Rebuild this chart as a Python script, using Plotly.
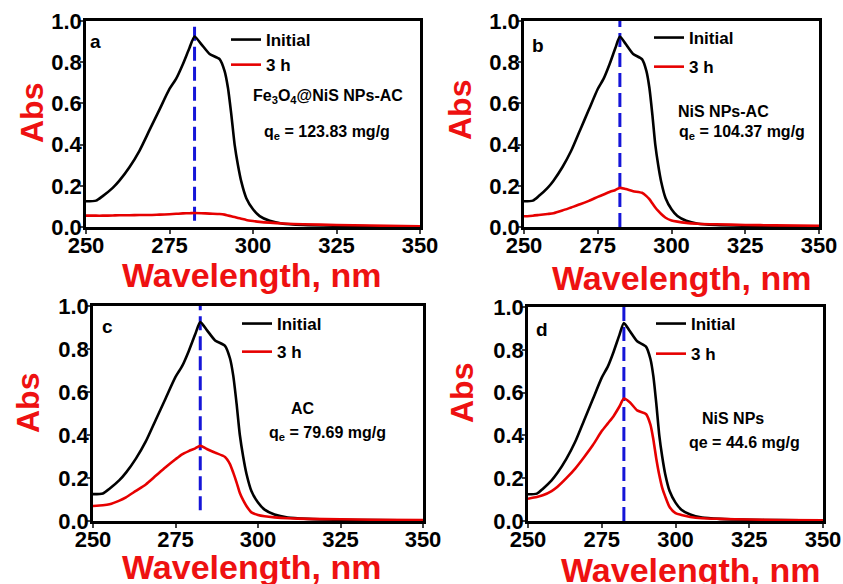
import plotly.graph_objects as go

# ---------------- data ----------------
wavelength = [250, 253, 255, 258, 260, 263, 266, 269, 272, 275, 277, 279, 281, 282.5,
              284.5, 287, 290, 291.5, 292.5, 293.5, 294.5, 295.5, 296.5, 298, 300, 302,
              305, 309, 315, 325, 335, 350]

abs_initial = [0.125, 0.128, 0.15, 0.19, 0.225, 0.29, 0.37, 0.47, 0.57, 0.67, 0.72, 0.79,
               0.87, 0.925, 0.888, 0.84, 0.815, 0.757, 0.676, 0.547, 0.40, 0.30, 0.22,
               0.14, 0.086, 0.053, 0.03, 0.016, 0.01, 0.006, 0.004, 0.002]

abs_3h_a = [0.055, 0.055, 0.055, 0.056, 0.057, 0.057, 0.058, 0.058, 0.06, 0.062, 0.064,
            0.066, 0.067, 0.068, 0.067, 0.065, 0.063, 0.06, 0.056, 0.052, 0.048, 0.044,
            0.04, 0.034, 0.029, 0.025, 0.021, 0.017, 0.013, 0.01, 0.007, 0.004]

abs_3h_b = [0.052, 0.055, 0.058, 0.063, 0.067, 0.08, 0.095, 0.11, 0.127, 0.146, 0.158,
            0.17, 0.18, 0.19, 0.184, 0.174, 0.166, 0.15, 0.135, 0.115, 0.095, 0.078,
            0.063, 0.045, 0.032, 0.026, 0.02, 0.016, 0.013, 0.01, 0.008, 0.006]

abs_3h_c = [0.07, 0.073, 0.078, 0.095, 0.11, 0.14, 0.17, 0.21, 0.25, 0.287, 0.31, 0.325,
            0.338, 0.35, 0.335, 0.318, 0.298, 0.265, 0.225, 0.18, 0.13, 0.097, 0.07,
            0.04, 0.028, 0.022, 0.017, 0.013, 0.01, 0.008, 0.006, 0.005]

abs_3h_d = [0.104, 0.112, 0.12, 0.14, 0.16, 0.2, 0.245, 0.298, 0.355, 0.42, 0.455, 0.49,
            0.535, 0.572, 0.555, 0.517, 0.50, 0.45, 0.38, 0.29, 0.215, 0.155, 0.115,
            0.065, 0.037, 0.028, 0.019, 0.013, 0.01, 0.007, 0.005, 0.003]

panel_letters = ["a", "b", "c", "d"]
adsorbent_names = ["Fe<sub>3</sub>O<sub>4</sub>@NiS NPs-AC", "NiS NPs-AC", "AC", "NiS NPs"]
qe_labels = ["q<sub>e</sub> = 123.83 mg/g", "q<sub>e</sub> = 104.37 mg/g",
             "q<sub>e</sub> = 79.69 mg/g", "qe = 44.6 mg/g"]
series_names = ["Initial", "3 h"]
peak_wavelength = 282.5
peak_line_bottom = [0.03, 0.0, 0.05, 0.0]
x_tick_values = [250, 275, 300, 325, 350]
y_tick_values = [0.0, 0.2, 0.4, 0.6, 0.8, 1.0]
x_title = "Wavelength, nm"
y_title = "Abs"

# ---------------- layout geometry (pixels) ----------------
W, H = 843, 584
FONT = "Liberation Sans, Arial, sans-serif"
RED = "#ee1111"
BLUE = "#1515d8"


def px(x):
    return x / W


def py(y):
    return 1 - y / H


# plot boxes: left, right, top, bottom in pixels
boxes = [(86, 420, 21, 227), (524, 819, 21, 227), (93, 423, 306, 521), (528, 823, 307, 521)]
legend_pos = [(226, 22, 0), (649, 20, 4), (237, 306, 3), (651, 306, 5)]
letter_pos = [(95, 42), (538, 45), (107, 326), (542, 329)]
name_pos = [(328, 97), (723, 111), (303, 408), (733, 418)]
qe_pos = [(327, 133), (742, 133), (327, 433), (744, 442)]
ytitle_pos = [(32, 113), (460, 110), (28, 403), (462, 393)]
xtitle_pos = [(252, 275), (681, 278), (252, 567), (690, 570)]

red_series = [abs_3h_a, abs_3h_b, abs_3h_c, abs_3h_d]

fig = go.Figure()
annotations = []
layout_axes = {}


def note(text, pos, size, color="black", angle=0):
    return dict(text=text, x=px(pos[0]), y=py(pos[1]), xref="paper", yref="paper",
                xanchor="center", yanchor="middle", showarrow=False, textangle=angle,
                font=dict(family=FONT, size=size, color=color, weight="bold"))


for i in range(4):
    sfx = "" if i == 0 else str(i + 1)
    xa, ya = "x" + sfx, "y" + sfx
    leg = "legend" + sfx
    # dashed peak marker
    fig.add_trace(go.Scatter(
        x=[peak_wavelength, peak_wavelength], y=[peak_line_bottom[i], 1.0],
        mode="lines", line=dict(color=BLUE, width=3, dash="14px,6px"),
        showlegend=False, hoverinfo="skip", xaxis=xa, yaxis=ya))
    fig.add_trace(go.Scatter(
        x=wavelength, y=abs_initial, mode="lines", name=series_names[0],
        line=dict(color="black", width=2.6, shape="spline", smoothing=0.6),
        legend=leg, legendgroup="init" + sfx, legendrank=1, xaxis=xa, yaxis=ya))
    fig.add_trace(go.Scatter(
        x=wavelength, y=red_series[i], mode="lines", name=series_names[1],
        line=dict(color="#e60000", width=2.6, shape="spline", smoothing=0.6),
        legend=leg, legendgroup="t3" + sfx, legendrank=2, xaxis=xa, yaxis=ya))

    l, r, t, b = boxes[i]
    layout_axes["xaxis" + sfx] = dict(
        domain=[px(l), px(r)], anchor=ya, range=[250, 350], automargin=False,
        tickvals=x_tick_values, ticks="outside", ticklen=4, tickwidth=2,
        ticklabelstandoff=-7,
        showline=True, linewidth=2.5, linecolor="black", mirror=True,
        showgrid=False, zeroline=False,
        tickfont=dict(family=FONT, size=22, color="black", weight="bold"))
    layout_axes["yaxis" + sfx] = dict(
        domain=[py(b), py(t)], anchor=xa, range=[0, 1.0], automargin=False,
        tickvals=y_tick_values, tickformat=".1f", ticks="outside", ticklen=3, tickwidth=2,
        ticklabelstandoff=-6,
        showline=True, linewidth=2.5, linecolor="black", mirror=True,
        showgrid=False, zeroline=False,
        tickfont=dict(family=FONT, size=22, color="black", weight="bold"))

    lx, ly, gap = legend_pos[i]
    layout_axes[leg] = dict(
        x=px(lx), y=py(ly), xanchor="left", yanchor="top",
        bgcolor="rgba(0,0,0,0)", borderwidth=0, tracegroupgap=gap,
        itemwidth=30, font=dict(family=FONT, size=17, color="black", weight="bold"))

    annotations.append(note(panel_letters[i], letter_pos[i], 19))
    annotations.append(note(adsorbent_names[i], name_pos[i], 16))
    annotations.append(note(qe_labels[i], qe_pos[i], 16))
    annotations.append(note(y_title, ytitle_pos[i], 32, RED, -90))
    annotations.append(note(x_title, xtitle_pos[i], 34, RED))

fig.update_layout(
    width=W, height=H, margin=dict(l=0, r=0, t=0, b=0, autoexpand=False),
    paper_bgcolor="white", plot_bgcolor="white",
    annotations=annotations, **layout_axes)

fig.write_html("out.html", config={"displayModeBar": False},
               post_script="document.body.style.margin='0px';")
